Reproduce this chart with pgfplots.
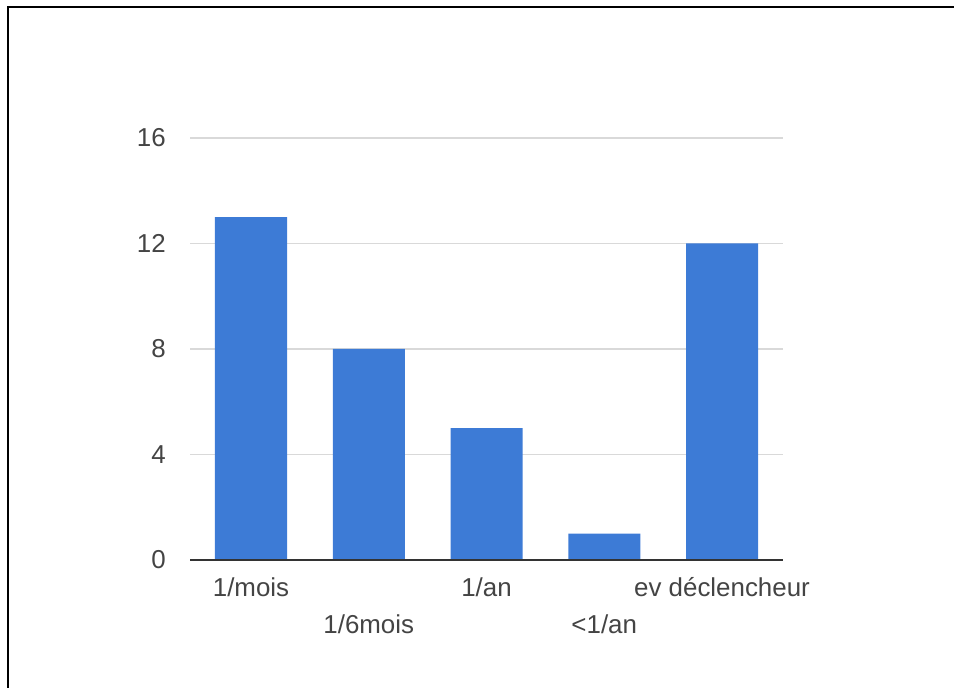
\documentclass[border=0pt]{standalone}
\usepackage{pgfplots}
\pgfplotsset{compat=1.18}
\usepackage{fontspec}
\setmainfont{Liberation Sans}
\definecolor{barblue}{RGB}{61,123,214}
\definecolor{txtgray}{RGB}{68,68,68}
\definecolor{gridgray}{RGB}{217,217,217}
\definecolor{axisgray}{RGB}{51,51,51}
\begin{document}
\begin{tikzpicture}[x=1bp,y=1bp]
\useasboundingbox (0,0) rectangle (954,688);
\draw[line width=2.4bp, black] (7.8,0) -- (7.8,681.2) -- (954,681.2);
\begin{axis}[
  at={(190bp,128bp)}, anchor=south west,
  scale only axis, width=593bp, height=422bp,
  xmin=-0.518, xmax=4.518, ymin=0, ymax=16,
  ytick={0,4,8,12,16},
  xtick={0,1,2,3,4},
  xticklabels={1/mois,\lower37bp\hbox{1/6mois},1/an,\lower37bp\hbox{<1/an},ev déclencheur},
  axis line style={draw=none},
  axis x line*=bottom, axis y line*=left,
  major tick length=0pt,
  ymajorgrids, grid style={gridgray, line width=1.2bp},
  tick label style={font=\fontsize{26}{30}\selectfont, text=txtgray},
  xticklabel style={anchor=base, yshift=-37bp, inner sep=0pt},
  yticklabel style={anchor=east, inner sep=0pt, xshift=-24bp},
  /pgf/number format/assume math mode=true,
  clip=false,
]
\addplot[ybar, bar width=72bp, fill=barblue, draw=none] coordinates {(0,13) (1,8) (2,5) (3,1) (4,12)};
\draw[axisgray, line width=2bp] (rel axis cs:0,0) -- (rel axis cs:1,0);
\end{axis}
\end{tikzpicture}
\end{document}
